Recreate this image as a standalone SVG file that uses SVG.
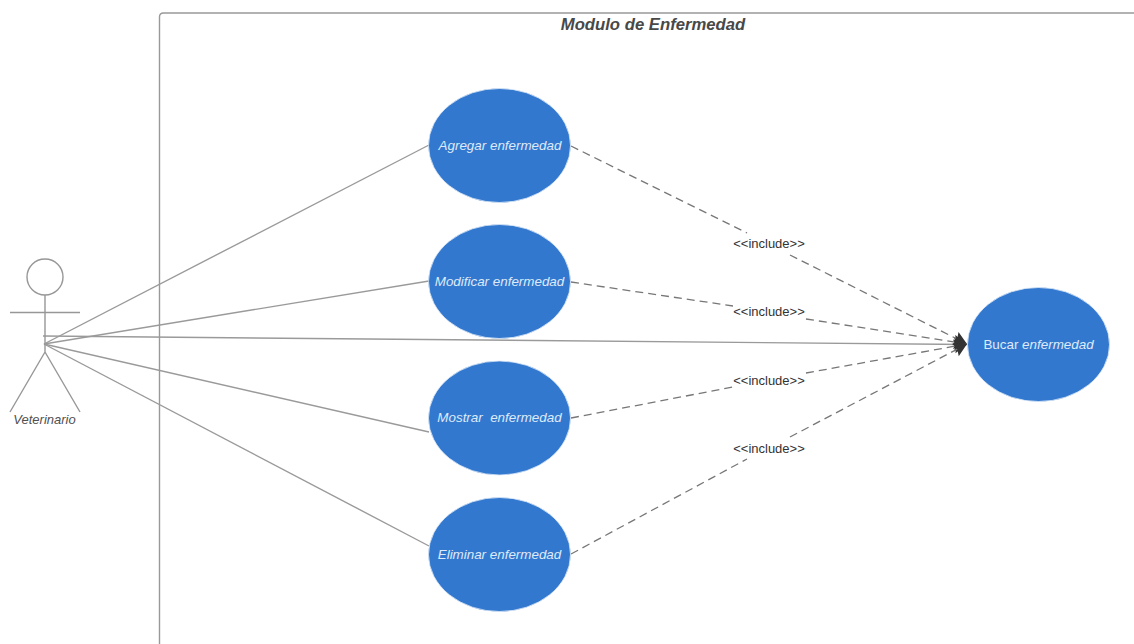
<svg xmlns="http://www.w3.org/2000/svg" width="1134" height="644" viewBox="0 0 1134 644">
<defs>
<marker id="arrow" markerUnits="userSpaceOnUse" markerWidth="16" markerHeight="20" refX="14" refY="10" orient="auto"><path d="M1 3 L14 10 L1 17 L3 10 Z" fill="#333"/></marker>
</defs>
<style>
text{font-family:"Liberation Sans",Arial,sans-serif}
.uc{fill:#3278cf;stroke:#dbe7f6;stroke-width:.8}
.ut{font-size:13.400px;fill:#dfeaf8;text-anchor:middle;font-style:italic}
.as{fill:none;stroke:#9a9a9a;stroke-width:1.4}
.in{fill:none;stroke:#777;stroke-width:1.300;stroke-dasharray:8 5}
.il{font-size:13px;fill:#333;text-anchor:middle}
.act{fill:none;stroke:#979797;stroke-width:1.400}
</style>
<rect width="1134" height="644" fill="#fff"/>
<g id="boundary">
<path d="M159.500 644 V17 Q159.500 13 163.500 13 H1134" fill="none" stroke="#999" stroke-width="1.400"/>
<text x="653" y="30" font-size="16.700" font-weight="bold" font-style="italic" fill="#484848" text-anchor="middle">Modulo de Enfermedad</text>
</g>
<g id="connectors">
<path class="as" d="M44 344 L429 145"/>
<path class="as" d="M44 344 L429 281"/>
<path class="as" d="M44 344 L429 432"/>
<path class="as" d="M44 344 L429 546"/>
<path class="as" d="M43 336 L967 344.500" marker-end="url(#arrow)"/>
<path class="in" d="M571 146 L747 233"/>
<path class="in" d="M790 255 L967 344" marker-end="url(#arrow)"/>
<path class="in" d="M571 282 L733 306"/>
<path class="in" d="M806 319 L967 344" marker-end="url(#arrow)"/>
<path class="in" d="M571 418 L733 387"/>
<path class="in" d="M806 373 L967 344" marker-end="url(#arrow)"/>
<path class="in" d="M571 554 L747 459"/>
<path class="in" d="M790 437 L967 344" marker-end="url(#arrow)"/>
<text class="il" x="769" y="248">&lt;&lt;include&gt;&gt;</text>
<text class="il" x="769" y="316">&lt;&lt;include&gt;&gt;</text>
<text class="il" x="769" y="385">&lt;&lt;include&gt;&gt;</text>
<text class="il" x="769" y="453">&lt;&lt;include&gt;&gt;</text>
</g>
<g id="actor">
<circle class="act" cx="45" cy="277" r="18"/>
<path class="act" d="M45 295 V352 M10 312.500 H80 M45 352 L10 412 M45 352 L80 412"/>
<text x="44.500" y="424" font-size="13px" font-style="italic" fill="#505050" text-anchor="middle">Veterinario</text>
</g>
<g id="uc-agregar"><ellipse class="uc" cx="499.500" cy="145.500" rx="71" ry="57"/><text class="ut" x="500" y="150">Agregar enfermedad</text></g>
<g id="uc-modificar"><ellipse class="uc" cx="499.500" cy="281.500" rx="71" ry="57"/><text class="ut" x="499.500" y="286">Modificar enfermedad</text></g>
<g id="uc-mostrar"><ellipse class="uc" cx="499.500" cy="418" rx="71" ry="57"/><text class="ut" x="499.500" y="422" xml:space="preserve">Mostrar  enfermedad</text></g>
<g id="uc-eliminar"><ellipse class="uc" cx="499.500" cy="554.500" rx="71" ry="57"/><text class="ut" x="499.500" y="559">Eliminar enfermedad</text></g>
<g id="uc-buscar"><ellipse class="uc" cx="1038.500" cy="344.500" rx="71" ry="57"/><text class="ut" x="1038.500" y="349"><tspan font-style="normal">Bucar</tspan> enfermedad</text></g>
</svg>
